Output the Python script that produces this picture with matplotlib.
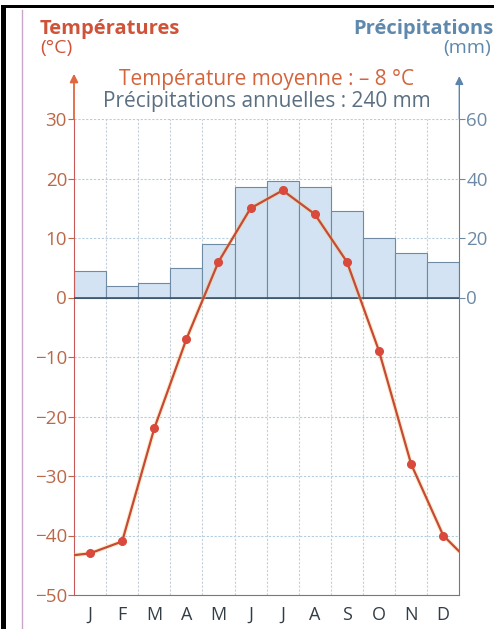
import numpy as np
import matplotlib
matplotlib.use("Agg")
import matplotlib.pyplot as plt
from matplotlib.lines import Line2D
from matplotlib.patches import Rectangle

plt.rcParams['font.family'] = ['Open Sans', 'DejaVu Sans']

# climate data
months = ['J', 'F', 'M', 'A', 'M', 'J', 'J', 'A', 'S', 'O', 'N', 'D']
temp = [-43, -41, -22, -7, 6, 15, 18, 14, 6, -9, -28, -40]
temp_edges = [-43.3, -42.7]   # where the curve meets the left / right border
precip = [9, 4, 5, 10, 18, 37, 39, 37, 29, 20, 15, 12]

temp_ticks = [30, 20, 10, 0, -10, -20, -30, -40, -50]
precip_ticks = [0, 20, 40, 60]

red = '#cf5338'
blue = '#5f88ad'
grey = '#5b6f82'

fig = plt.figure(figsize=(4.94, 6.29), dpi=100)
ax = fig.add_axes([74/494, 1-595/629, (459.3-74)/494, (595-119)/629])

x = np.arange(12) + 0.5

# precipitation bars, 1 mm = 0.5 degC
ax.bar(x, np.array(precip)/2, width=1, color='#d3e3f3', edgecolor='#6f8ba3',
       linewidth=0.8, zorder=2)

# grid
for t in temp_ticks:
    if t != 0:
        ax.axhline(t, color='#b4cde0', lw=0.8, ls=(0, (2, 1.5)), zorder=1)
for i in range(1, 12):
    ax.axvline(i, color='#c6cfd8', lw=0.8, ls=(0, (2, 1.5)), zorder=1)
ax.axhline(0, color='#34495c', lw=1.1, zorder=3)

# temperature curve
tx = np.concatenate([[0], x, [12]])
ty = np.concatenate([[temp_edges[0]], temp, [temp_edges[1]]])
ax.plot(tx, ty, color='#f4d060', lw=3.2, alpha=0.35, zorder=4, solid_capstyle='butt')
ax.plot(tx, ty, color='#c8483a', lw=1.6, zorder=5)
ax.plot(x, temp, 'o', color='#d9493c', ms=5.5, zorder=6)

ax.set_xlim(0, 12)
ax.set_ylim(-50, 30)
ax.set_xticks(x)
ax.set_xticklabels(months, fontsize=13, color='#333d46')
ax.tick_params(axis='x', length=0, pad=8)
ax.set_yticks(temp_ticks)
ax.set_yticklabels([str(t).replace('-', '\u2212') for t in temp_ticks],
                   fontsize=13.5, color='#bb6848')
ax.tick_params(axis='y', length=4, color='#bb6848', pad=1)

ax.spines['top'].set_visible(False)
ax.spines['left'].set_color('#c95a5a')
ax.spines['right'].set_color('#707a84')
ax.spines['bottom'].set_color('#707a84')

ax2 = ax.twinx()
ax2.set_ylim(-100, 60)
ax2.set_yticks(precip_ticks)
ax2.set_yticklabels([str(p) for p in precip_ticks], fontsize=13.5, color='#6c8aa6')
ax2.tick_params(axis='y', length=4, color='#6c8aa6', pad=1)
for s in ax2.spines.values():
    s.set_visible(False)

# axis arrows
ax.annotate('', xy=(0, 37.6), xytext=(0, 30), annotation_clip=False,
            arrowprops=dict(arrowstyle='-|>', color='#e0673e', lw=1.3,
                            mutation_scale=12, shrinkA=0, shrinkB=0))
ax.annotate('', xy=(12, 37.2), xytext=(12, 30), annotation_clip=False,
            arrowprops=dict(arrowstyle='-|>', color='#5c84ad', lw=1.0,
                            mutation_scale=12, shrinkA=0, shrinkB=0))

# titles
fig.text(40/494, 1-29/629, 'Températures', fontsize=14.5, fontweight='bold',
         color=red, ha='left', va='center')
fig.text(40/494, 1-48/629, '(°C)', fontsize=14, color=red, ha='left', va='center')
fig.text(493/494, 1-29/629, 'Précipitations', fontsize=14.5, fontweight='bold',
         color=blue, ha='right', va='center')
fig.text(491/494, 1-48/629, '(mm)', fontsize=14, color=blue, ha='right', va='center')
fig.text(267/494, 1-80/629, 'Température moyenne : – 8 °C', fontsize=15,
         color='#d4643c', ha='center', va='center')
fig.text(267/494, 1-102/629, 'Précipitations annuelles : 240 mm', fontsize=15,
         color=grey, ha='center', va='center')

# scan frame
fig.add_artist(Rectangle((1/494, 0), 5/494, 1-5/629, transform=fig.transFigure,
                         color='black', lw=0))
fig.add_artist(Rectangle((1/494, 1-8/629), 493/494, 3/629, transform=fig.transFigure,
                         color='black', lw=0))
fig.add_artist(Line2D([22/494, 22/494], [0, 1-10/629], transform=fig.transFigure,
                      color='#c9a6cc', lw=1))

fig.savefig('out.png', dpi=100)
